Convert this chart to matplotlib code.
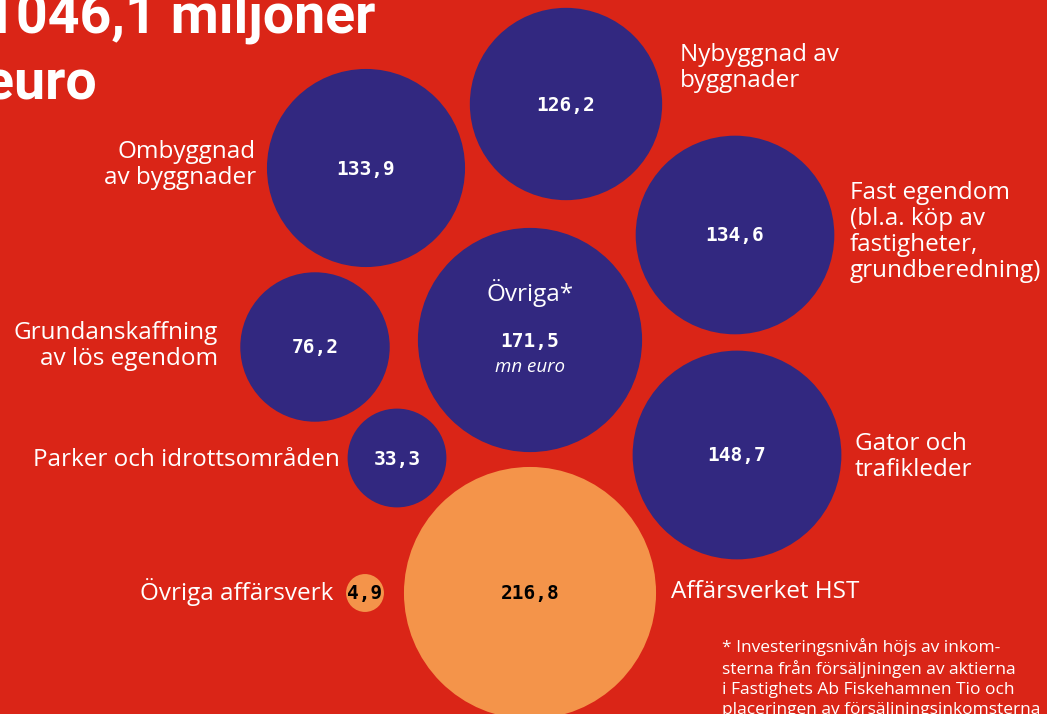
import matplotlib.pyplot as plt
from matplotlib.patches import Circle

# data
values = [126.2, 133.9, 134.6, 171.5, 76.2, 33.3, 148.7, 216.8, 4.9]
value_labels = ["126,2", "133,9", "134,6", "171,5", "76,2", "33,3", "148,7", "216,8", "4,9"]
kinds = ["kommun", "kommun", "kommun", "kommun", "kommun", "kommun", "kommun", "affar", "affar"]
names = ["Nybyggnad av\nbyggnader", "Ombyggnad\nav byggnader",
         "Fast egendom\n(bl.a. köp av\nfastigheter,\ngrundberedning)", "Övriga*",
         "Grundanskaffning\nav lös egendom", "Parker och idrottsområden",
         "Gator och\ntrafikleder", "Affärsverket HST", "Övriga affärsverk"]
title = "1046,1 miljoner\neuro"
footnote = ("* Investeringsnivån höjs av inkom-\nsterna från försäljningen av aktierna\n"
            "i Fastighets Ab Fiskehamnen Tio och\nplaceringen av försäljningsinkomsterna")

# layout (bubble centres in px, label anchors)
centres = [(566, 104), (366, 168), (735, 235), (530, 340), (315, 347),
           (397, 458), (737, 455), (530, 593), (365, 593)]
label_pos = [(680, 68, "left"), (256, 165, "right"), (850, 232, "left"), None,
             (218, 346, "right"), (340, 460, "right"), (855, 457, "left"),
             (671, 592, "left"), (333, 592, "right")]
scale = 8.56  # px radius per sqrt(value)

RED = "#DA2517"
NAVY = "#322880"
ORANGE = "#F4944A"

fig = plt.figure(figsize=(10.47, 7.14), dpi=100)
fig.patch.set_facecolor(RED)
ax = fig.add_axes([0, 0, 1, 1])
ax.set_xlim(0, 1047)
ax.set_ylim(714, 0)
ax.set_aspect("equal")
ax.axis("off")

label_font = "Open Sans"
num_font = "DejaVu Sans Mono"

for i, v in enumerate(values):
    x, y = centres[i]
    r = scale * v ** 0.5
    col = NAVY if kinds[i] == "kommun" else ORANGE
    ax.add_patch(Circle((x, y), r, facecolor=col, edgecolor="none"))
    tcol = "white" if kinds[i] == "kommun" else "black"
    ax.text(x, y + 1, value_labels[i], ha="center", va="center", color=tcol,
            fontsize=14, fontweight="bold", family=num_font)
    if label_pos[i] is not None:
        lx, ly, ha = label_pos[i]
        ax.text(lx, ly, names[i], ha=ha, va="center", color="white",
                fontsize=17.5, family=label_font, linespacing=1.1)
    else:
        ax.text(x, y - 47, names[i], ha="center", va="center", color="white",
                fontsize=17.5, family=label_font)
        ax.text(x, y + 27, "mn euro", ha="center", va="center", color="white",
                fontsize=13.5, style="italic", family=label_font)

ax.text(-16, 51, title, ha="left", va="center", color="white", fontsize=40,
        fontweight="bold", family="Roboto", linespacing=1.33)
ax.text(722, 678, footnote, ha="left", va="center", color="white",
        fontsize=12.5, family=label_font, linespacing=1.3)

fig.savefig("out.png", dpi=100, facecolor=RED)
